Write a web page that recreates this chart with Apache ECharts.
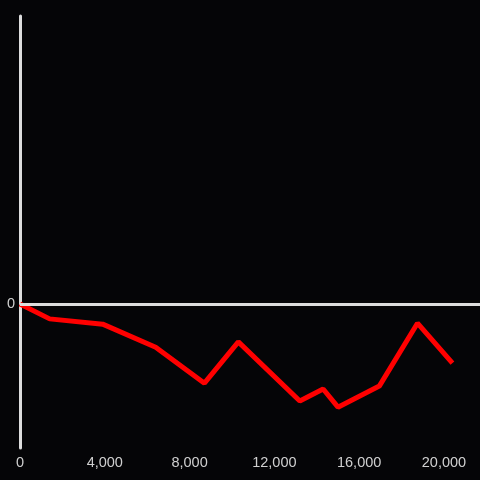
<!DOCTYPE html>
<html><head><meta charset="utf-8">
<script src="https://cdn.jsdelivr.net/npm/echarts@6/dist/echarts.min.js"></script>
<style>html,body{margin:0;padding:0;background:#050507;}#c{width:480px;height:480px;}</style>
</head><body><div id="c"></div>
<script>
const xValues = [0, 1400, 3900, 6400, 8700, 10300, 13200, 14300, 15000, 16950, 18750, 20400];
const yValues = [0, -31, -42, -90, -165, -79, -202, -177, -215, -171, -40, -123];
const xTicks = [0, 4000, 8000, 12000, 16000, 20000];

const chart = echarts.init(document.getElementById('c'));
chart.setOption({
  backgroundColor: '#050507',
  animation: false,
  grid: {left: 20, right: 0, top: 16, bottom: 32},
  xAxis: {
    type: 'value', min: 0, max: 21700, interval: 4000,
    axisLine: {show: false}, axisTick: {show: false}, splitLine: {show: false},
    axisLabel: {color: '#d0d0d0', fontSize: 14.5, margin: 7, fontFamily: 'Liberation Sans, Arial, sans-serif',
      showMaxLabel: false,
      formatter: v => xTicks.includes(v) ? v.toLocaleString('en-US') : ''}
  },
  yAxis: {
    type: 'value', min: -300, max: 600, interval: 300,
    axisLine: {show: true, onZero: false, lineStyle: {color: '#dddddd', width: 3}},
    axisTick: {show: false}, splitLine: {show: false},
    axisLabel: {color: '#d0d0d0', fontSize: 14.5, margin: 5, fontFamily: 'Liberation Sans, Arial, sans-serif',
      formatter: v => v === 0 ? '0' : ''}
  },
  series: [{
    type: 'line',
    data: xValues.map((x, i) => [x, yValues[i]]),
    symbol: 'none',
    lineStyle: {color: '#ff0000', width: 5},
    markLine: {
      silent: true, symbol: 'none', label: {show: false},
      lineStyle: {color: '#dddddd', width: 3, type: 'solid'},
      data: [{yAxis: 0}]
    },
    z: 3
  }]
});
</script></body></html>
